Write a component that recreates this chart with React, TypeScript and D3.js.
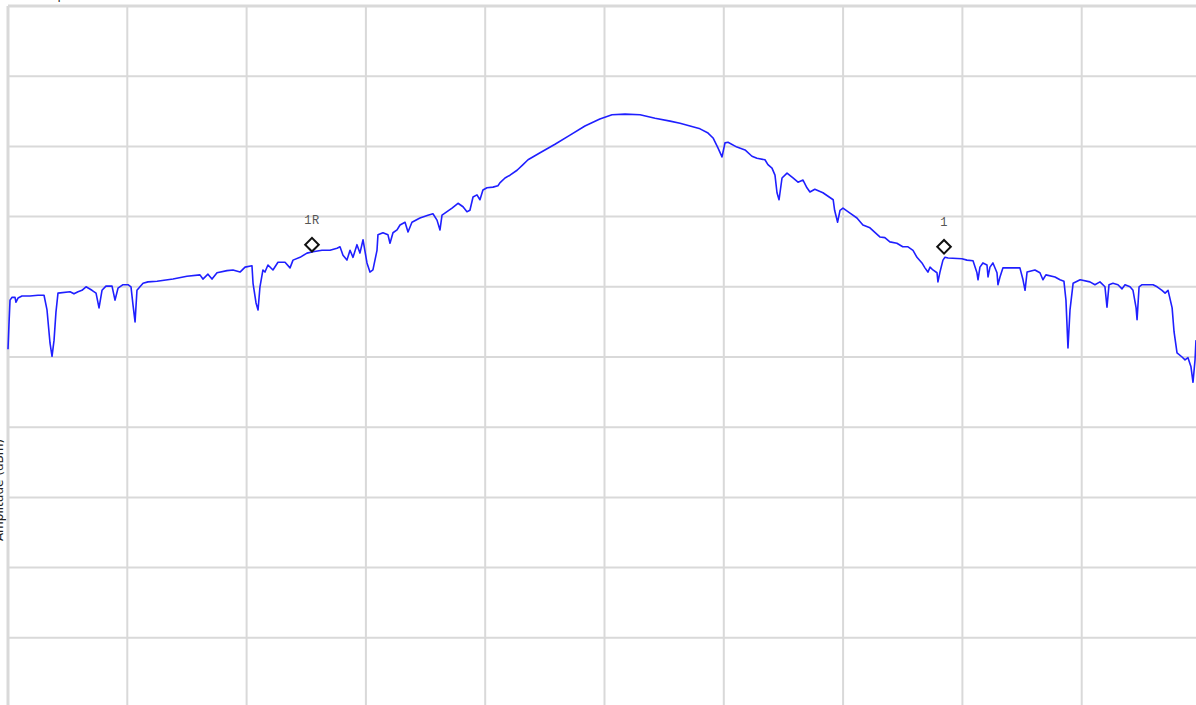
import React from "react";
import * as d3 from "d3";

// trace readings: frequency (MHz, 100 MHz/div) and level (dB, 10 dB/div, ref 0 dB)
const freqMHz = [
  0, 0.8, 1.7, 3.4, 5.9, 6.7, 8.4, 11.7, 18.4, 25.1, 30.2, 32.7, 35.2, 36.9, 38.6, 40.2, 41.9, 52.0, 55.3, 58.7,
  62.0, 65.4, 70.4, 73.8, 76.3, 78.8, 82.1, 87.2, 89.7, 92.2, 96.4, 100.6, 103.1, 104.8, 106.5, 108.1, 110.6, 113.2, 117.3, 124.9,
  138.3, 150.0, 160.9, 163.4, 167.6, 171.0, 175.2, 183.6, 188.6, 194.5, 198.7, 204.5, 205.4, 207.9, 209.6, 211.2, 213.7, 215.4, 217.9, 222.1,
  226.3, 232.2, 236.4, 238.9, 244.8, 250.6, 255.7, 263.2, 269.9, 275.8, 278.3, 280.8, 284.1, 286.7, 289.2, 292.5, 295.0, 297.6, 300.9, 303.4,
  305.9, 309.3, 310.1, 314.3, 318.5, 320.2, 322.7, 326.1, 328.6, 332.8, 335.3, 338.6, 345.3, 352.0, 356.2, 359.6, 362.1, 363.8, 368.0, 372.2,
  377.2, 381.4, 384.7, 387.2, 389.8, 393.1, 395.6, 398.1, 401.5, 406.5, 410.7, 412.3, 416.6, 420.8, 426.7, 431.7, 435.9, 446.0, 458.5, 471.1,
  483.6, 496.1, 506.3, 517.2, 529.8, 542.4, 555.0, 563.3, 571.7, 580.1, 586.8, 591.0, 595.1, 598.5, 601.0, 603.5, 611.0, 617.8, 623.6, 627.8,
  634.5, 637.0, 640.4, 642.9, 644.6, 646.3, 648.8, 653.0, 658.0, 662.2, 666.4, 669.7, 672.2, 676.3, 683.1, 691.7, 692.9, 695.4, 697.4, 699.9,
  705.8, 711.6, 716.6, 722.5, 730.8, 735.0, 739.2, 745.1, 750.0, 754.4, 758.6, 761.9, 766.1, 768.6, 771.1, 772.9, 775.3, 778.7, 779.5, 781.2,
  783.7, 785.4, 788.0, 799.6, 803.8, 808.9, 812.2, 813.1, 814.7, 817.2, 820.6, 821.5, 823.1, 825.6, 829.0, 829.8, 831.5, 834.0, 848.2, 850.8,
  852.5, 854.2, 860.8, 865.0, 867.5, 870.0, 877.6, 881.8, 885.1, 886.8, 888.5, 890.2, 892.8, 898.7, 906.9, 911.1, 915.3, 919.5, 921.2, 922.9,
  926.2, 930.4, 933.8, 936.3, 940.5, 943.0, 945.6, 946.4, 948.1, 950.6, 959.8, 963.2, 967.3, 969.9, 972.4, 975.8, 977.4, 979.9, 984.1, 986.6,
  989.1, 991.6, 993.3, 995.0, 995.8,
];
const levelDb = [
  -48.9, -45.4, -41.9, -41.5, -41.5, -42.2, -41.6, -41.3, -41.3, -41.2, -41.2, -43.3, -48.0, -49.9, -47.6, -43.6, -40.9, -40.7, -41.0, -40.7,
  -40.5, -40.0, -40.5, -40.9, -43.0, -40.5, -39.9, -39.9, -41.9, -40.2, -39.7, -39.7, -40.0, -42.6, -45.0, -40.5, -40.0, -39.5, -39.3, -39.2,
  -38.9, -38.5, -38.3, -38.9, -38.2, -38.9, -38.0, -37.7, -37.6, -37.9, -37.2, -37.0, -39.5, -42.3, -43.3, -40.0, -37.6, -37.9, -36.9, -37.6,
  -36.5, -36.5, -37.3, -36.2, -35.8, -35.2, -35.0, -34.8, -34.8, -34.5, -34.3, -35.5, -36.2, -34.8, -35.8, -34.0, -35.2, -33.3, -36.6, -37.9,
  -37.6, -34.8, -32.6, -32.3, -32.6, -33.8, -32.3, -31.9, -31.2, -30.8, -32.2, -30.8, -30.2, -29.8, -29.6, -30.5, -31.9, -29.8, -29.3, -28.8,
  -28.1, -28.6, -29.3, -29.1, -27.2, -26.9, -27.6, -26.2, -25.9, -25.8, -25.6, -25.2, -24.5, -24.1, -23.4, -22.6, -21.9, -20.9, -19.7, -18.4,
  -17.1, -16.1, -15.5, -15.4, -15.5, -16.0, -16.4, -16.7, -17.1, -17.5, -18.1, -18.8, -20.2, -21.5, -19.5, -19.4, -20.1, -20.5, -21.4, -21.7,
  -21.9, -22.6, -23.1, -24.1, -26.6, -27.6, -24.5, -23.8, -24.5, -25.1, -24.8, -25.9, -26.5, -26.1, -26.6, -27.6, -29.1, -30.8, -29.1, -28.8,
  -29.5, -30.2, -31.2, -31.6, -32.9, -33.0, -33.6, -33.8, -34.3, -34.3, -34.8, -35.8, -36.6, -37.3, -37.9, -37.2, -37.6, -38.0, -39.3, -37.9,
  -36.2, -35.8, -35.9, -36.0, -36.2, -36.3, -38.0, -39.0, -37.2, -36.6, -36.9, -38.6, -37.2, -36.6, -38.0, -39.7, -38.6, -37.3, -37.3, -39.0,
  -40.5, -37.9, -37.6, -38.0, -39.0, -38.3, -38.6, -39.0, -39.2, -41.9, -48.7, -43.3, -39.5, -39.0, -39.3, -39.7, -39.3, -40.0, -42.9, -39.7,
  -39.5, -39.7, -40.3, -39.7, -40.0, -40.5, -43.0, -44.7, -40.0, -39.7, -39.7, -40.0, -40.5, -40.9, -40.5, -43.0, -46.4, -49.4, -50.0, -50.4,
  -50.1, -51.4, -53.6, -50.4, -47.6,
];

const markerLabels = ["1R", "1"];
const markerFreq = [254.8, 784.6];
const markerLevel = [-34.0, -34.3];

const freqTicks = d3.range(0, 1001, 100);
const levelTicks = d3.range(0, -101, -10);

const W = 1196;
const H = 705;
const margin = { top: 6, right: -5, bottom: -3, left: 8 };

export default function App() {
  const x = d3.scaleLinear().domain([0, 1000]).range([margin.left, W - margin.right]);
  const y = d3.scaleLinear().domain([0, -100]).range([margin.top, H - margin.bottom]);

  const points = freqMHz.map((f, i) => [f, levelDb[i]] as [number, number]);
  const line = d3
    .line<[number, number]>()
    .x((d) => x(d[0]))
    .y((d) => y(d[1]));

  const diamond = d3.symbol().type(d3.symbolSquare).size(92)();

  return (
    <svg
      width={W}
      height={H}
      style={{ position: "absolute", left: 0, top: 0, background: "#fff" }}
      fontFamily="DejaVu Sans, sans-serif"
    >
      {/* title and y label sit mostly outside the visible frame */}
      <text x={50} y={-1} fontSize={12} fill="#222">Spectrum</text>
      <text
        transform={`translate(3,${490}) rotate(-90)`}
        textAnchor="middle"
        fontSize={12}
        fill="#222"
      >
        Amplitude (dBm)
      </text>

      <g className="grid" stroke="#d9d9d9" strokeWidth={2}>
        {freqTicks.map((t) => (
          <line key={"v" + t} x1={x(t)} x2={x(t)} y1={y(0)} y2={y(-100)} strokeWidth={t === 0 ? 3 : 2} />
        ))}
        {levelTicks.map((t) => (
          <line key={"h" + t} x1={x(0)} x2={x(1000)} y1={y(t)} y2={y(t)} strokeWidth={t === 0 ? 3 : 2} />
        ))}
      </g>

      <path d={line(points) ?? ""} fill="none" stroke="#1f1fff" strokeWidth={1.6} strokeLinejoin="round" />

      {markerLabels.map((lab, i) => (
        <g key={lab} transform={`translate(${x(markerFreq[i])},${y(markerLevel[i])})`}>
          <path d={diamond ?? ""} transform="rotate(45)" fill="#fff" stroke="#111" strokeWidth={2} />
          <text
            y={-21}
            textAnchor="middle"
            fontFamily="Liberation Mono, monospace"
            fontSize={12}
            letterSpacing={0.5}
            fill="#555"
          >
            {lab}
          </text>
        </g>
      ))}
    </svg>
  );
}
